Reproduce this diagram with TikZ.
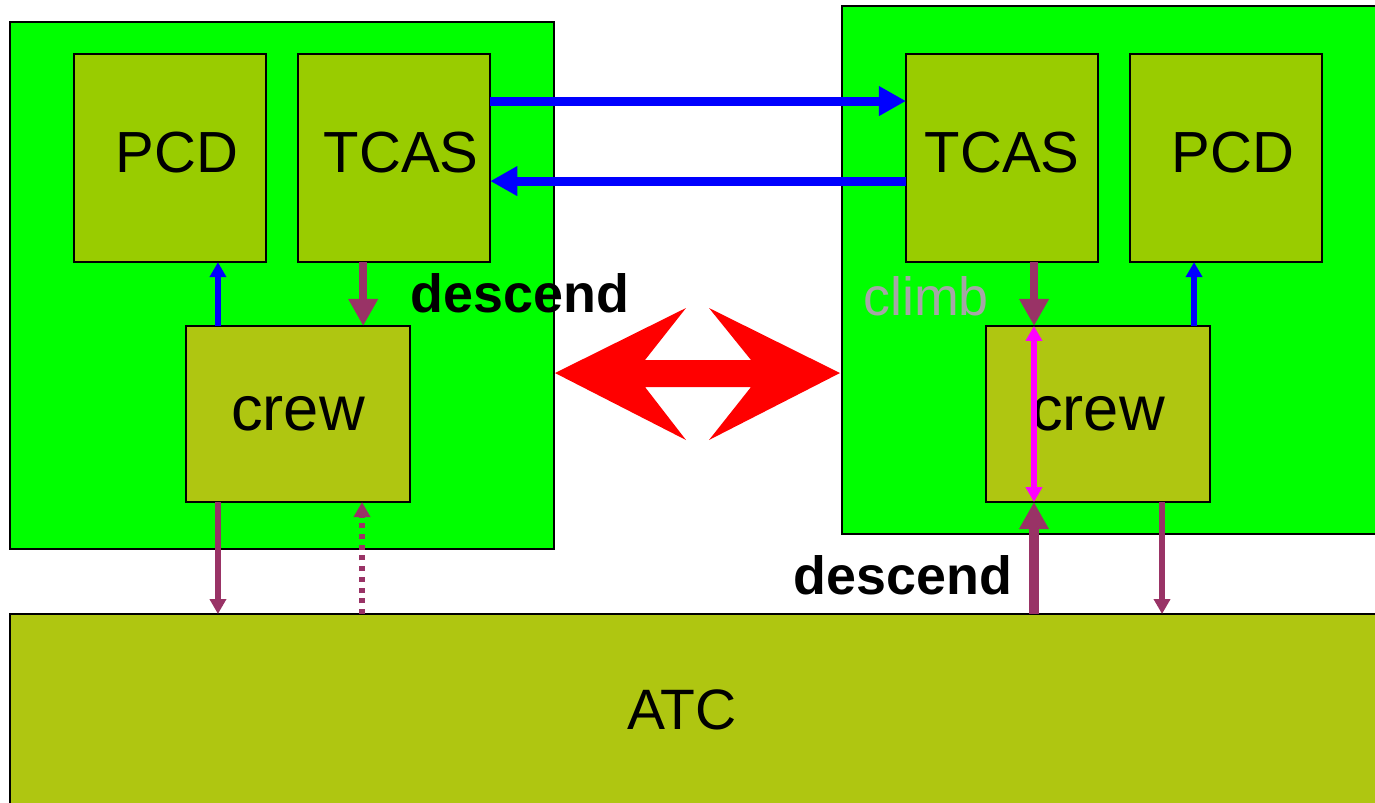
\documentclass[tikz,border=0pt]{standalone}
\usepackage{fontspec}
\setmainfont{Liberation Sans}
\usetikzlibrary{arrows.meta,positioning}
\definecolor{PGreen}{HTML}{00FF00}
\definecolor{PBox}{HTML}{99CC00}
\definecolor{PCrew}{HTML}{AFC611}
\definecolor{PPurple}{HTML}{993366}
\definecolor{PBlue}{HTML}{0000FF}
\definecolor{PMagenta}{HTML}{FF00FF}
\definecolor{PGrey}{HTML}{A6A6A6}

\begin{document}
\begin{tikzpicture}[x=0.01cm,y=-0.01cm,
  every node/.style={inner sep=0pt,outer sep=0pt},
  planebox/.style={draw=black,line width=0.6pt,fill=PGreen,anchor=north west},
  unitbox/.style={draw=black,line width=0.6pt,fill=PBox,
    minimum width=1.92cm,minimum height=2.08cm,
    font=\fontsize{16.5}{18}\selectfont,text height=0.44cm,text depth=0.16cm},
  crewbox/.style={draw=black,line width=0.6pt,fill=PCrew,
    minimum width=2.24cm,minimum height=1.76cm,font=\fontsize{18}{20}\selectfont},
  lbl/.style={font=\fontsize{15.3}{17}\selectfont},
  bigarr/.style={-{Triangle[length=0.27cm,width=0.28cm]},line width=0.09cm},
  thinarr/.style={-{Triangle[length=0.15cm,width=0.16cm]},line width=0.055cm}
]
  \useasboundingbox (0,0) rectangle (1375,802);
  % aircraft and ground
  \node[planebox,minimum width=5.44cm,minimum height=5.27cm] (planeL) at (10,22) {};
  \node[planebox,minimum width=5.6cm,minimum height=5.28cm] (planeR) at (842,6) {};
  \node[draw=black,line width=0.6pt,fill=PCrew,anchor=north west,
    minimum width=14cm,minimum height=2.2cm] (atc) at (10,614) {};
  \node[font=\fontsize{16.2}{18}\selectfont] at (682,710) {ATC};

  % left aircraft
  \node[unitbox,anchor=north west] (pcdL) at (74,54) {\hspace{0.14cm}PCD};
  \node[unitbox,right=0.32cm of pcdL] (tcasL) {\hspace{0.14cm}TCAS};
  \node[crewbox] (crewL) at (298,414) {crew};

  % right aircraft
  \node[unitbox,anchor=north west] (tcasR) at (906,54) {TCAS};
  \node[unitbox,right=0.32cm of tcasR] (pcdR) {\hspace{0.14cm}PCD};
  \node[crewbox] (crewR) at (1098,414) {crew};

  % conflict
  \fill[red] (555,373) -- (686,308) -- (645,360) -- (751,360) -- (709,308)
    -- (840,373) -- (709,440) -- (751,387) -- (645,387) -- (686,440) -- cycle;

  % TCAS link
  \draw[bigarr,PBlue] ([yshift=0.57cm]tcasL.east) -- ([yshift=0.57cm]tcasR.west);
  \draw[bigarr,PBlue] ([yshift=-0.23cm]tcasR.west) -- ([yshift=-0.23cm]tcasL.east);

  % left crew
  \draw[thinarr,PBlue] ([xshift=-0.8cm]crewL.north) -- ([xshift=-0.8cm]crewL.north |- pcdL.south);
  \draw[bigarr,PPurple,line width=0.08cm] ([xshift=-0.31cm]tcasL.south) -- ([xshift=-0.31cm]tcasL.south |- crewL.north);
  \draw[thinarr,PPurple] ([xshift=-0.8cm]crewL.south) -- ([xshift=-0.8cm]crewL.south |- atc.north);
  \draw[thinarr,PPurple,dash pattern=on 0.05cm off 0.057cm] ([xshift=0.64cm]crewL.south |- atc.north) -- ([xshift=0.64cm]crewL.south);
  \node[lbl,font=\fontsize{15.3}{17}\selectfont\bfseries] (descL) at (520,293) {descend};

  % right crew
  \draw[bigarr,PPurple,line width=0.08cm] ([xshift=0.32cm]tcasR.south) -- ([xshift=0.32cm]tcasR.south |- crewR.north);
  \draw[thinarr,PMagenta,{Triangle[length=0.15cm,width=0.16cm]}-{Triangle[length=0.15cm,width=0.16cm]}] ([xshift=-0.64cm]crewR.north) -- ([xshift=-0.64cm]crewR.south);
  \draw[thinarr,PBlue] ([xshift=0.96cm]crewR.north) -- ([xshift=0.96cm]crewR.north |- pcdR.south);
  \draw[bigarr,PPurple,line width=0.1cm] ([xshift=-0.64cm]crewR.south |- atc.north) -- ([xshift=-0.64cm]crewR.south);
  \draw[thinarr,PPurple] ([xshift=0.64cm]crewR.south) -- ([xshift=0.64cm]crewR.south |- atc.north);
  \node[lbl,text=PGrey] (climbR) at (926,296) {climb};
  \node[lbl,font=\fontsize{15.3}{17}\selectfont\bfseries] (descR) at (903,575) {descend};
\end{tikzpicture}
\end{document}
